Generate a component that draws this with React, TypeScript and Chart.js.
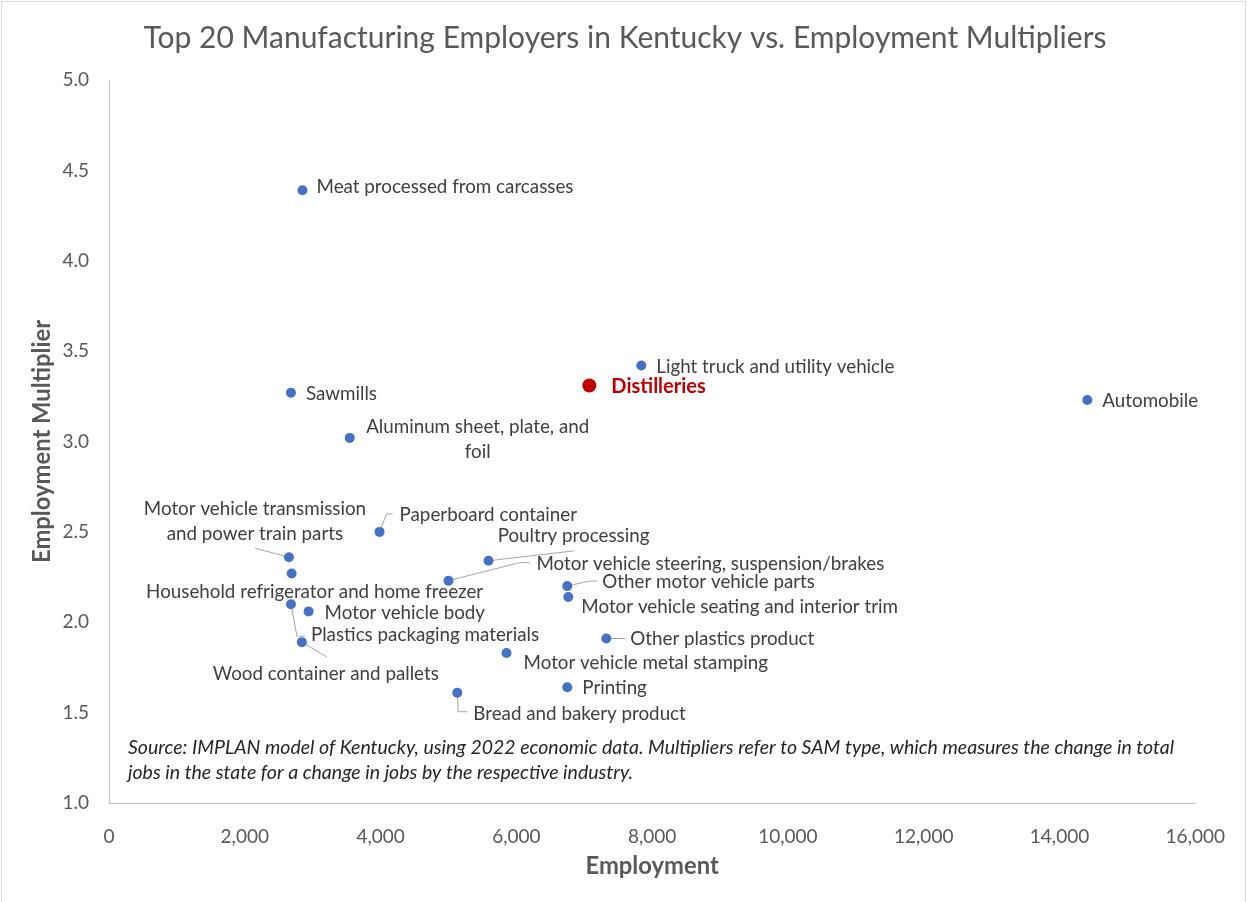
import React, { useEffect, useRef } from "react";
import { Chart, registerables } from "chart.js";

Chart.register(...registerables);

const industries = [
  "Meat processed from carcasses",
  "Sawmills",
  "Aluminum sheet, plate, and|foil",
  "Light truck and utility vehicle",
  "Distilleries",
  "Automobile",
  "Paperboard container",
  "Motor vehicle transmission|and power train parts",
  "Household refrigerator and home freezer",
  "Plastics packaging materials",
  "Motor vehicle body",
  "Wood container and pallets",
  "Poultry processing",
  "Motor vehicle steering, suspension/brakes",
  "Other motor vehicle parts",
  "Motor vehicle seating and interior trim",
  "Other plastics product",
  "Motor vehicle metal stamping",
  "Printing",
  "Bread and bakery product",
];

const employment = [
  2850, 2680, 3545, 7840, 7075, 14410, 3985, 2650, 2690, 2680, 2940, 2840,
  5590, 5000, 6750, 6765, 7325, 5855, 6750, 5130,
];

const multiplier = [
  4.39, 3.27, 3.02, 3.42, 3.31, 3.23, 2.5, 2.36, 2.27, 2.1, 2.06, 1.89, 2.34,
  2.23, 2.2, 2.14, 1.91, 1.83, 1.64, 1.61,
];

const highlightIndex = 4;

const xTicks = [0, 2000, 4000, 6000, 8000, 10000, 12000, 14000, 16000];
const yTicks = [1.0, 1.5, 2.0, 2.5, 3.0, 3.5, 4.0, 4.5, 5.0];

const chartTitle = "Top 20 Manufacturing Employers in Kentucky vs. Employment Multipliers";
const xTitle = "Employment";
const yTitle = "Employment Multiplier";
const sourceNote = [
  "Source: IMPLAN model of Kentucky, using 2022 economic data. Multipliers refer to SAM type, which measures the change in total",
  "jobs in the state for a change in jobs by the respective industry.",
];

// label placement: offset of text anchor from point (px), alignment, optional leader path (px offsets)
type Place = { dx: number; dy: number; align: "left" | "center"; leader?: number[][] };
const placements: Place[] = [
  { dx: 14, dy: -3, align: "left" },
  { dx: 15, dy: 1, align: "left" },
  { dx: 128, dy: -11, align: "center" },
  { dx: 15, dy: 1, align: "left" },
  { dx: 22, dy: 1, align: "left" },
  { dx: 15, dy: 1, align: "left" },
  { dx: 20, dy: -17, align: "left", leader: [[0, 0], [7, -18], [13, -18]] },
  { dx: -34, dy: -48, align: "center", leader: [[0, 0], [-34, -9]] },
  { dx: 23, dy: 18, align: "center" },
  { dx: 20, dy: 31, align: "left", leader: [[0, 0], [6, 32], [14, 32]] },
  { dx: 16, dy: 2, align: "left" },
  { dx: 24, dy: 32, align: "center", leader: [[0, 0], [25, 15]] },
  { dx: 85, dy: -25, align: "center", leader: [[0, 0], [86, -10]] },
  { dx: 88, dy: -17, align: "left", leader: [[0, 0], [71, -18], [81, -18]] },
  { dx: 35, dy: -4, align: "left", leader: [[0, 0], [22, -5], [30, -5]] },
  { dx: 13, dy: 10, align: "left" },
  { dx: 24, dy: 0, align: "left", leader: [[0, 0], [19, 0]] },
  { dx: 17, dy: 10, align: "left" },
  { dx: 15, dy: 1, align: "left" },
  { dx: 16, dy: 21, align: "left", leader: [[0, 0], [1, 19], [10, 19]] },
];

const FONT = "Lato, 'Open Sans', sans-serif";

const decorPlugin = {
  id: "decor",
  beforeDatasetsDraw(chart: any) {
    const ctx = chart.ctx;
    const meta = chart.getDatasetMeta(0);
    ctx.save();
    ctx.strokeStyle = "#a6a6a6";
    ctx.lineWidth = 1;
    placements.forEach((p, i) => {
      if (!p.leader) return;
      const el = meta.data[i];
      ctx.beginPath();
      p.leader.forEach(([lx, ly], k) => {
        if (k === 0) ctx.moveTo(el.x + lx, el.y + ly);
        else ctx.lineTo(el.x + lx, el.y + ly);
      });
      ctx.stroke();
    });
    ctx.restore();
  },
  afterDatasetsDraw(chart: any) {
    const ctx = chart.ctx;
    const meta = chart.getDatasetMeta(0);
    const area = chart.chartArea;
    ctx.save();
    // outer border
    ctx.strokeStyle = "#d9d9d9";
    ctx.lineWidth = 1;
    ctx.strokeRect(1.5, 1.5, chart.width - 3, chart.height + 5);

    // point labels
    ctx.textBaseline = "middle";
    industries.forEach((name, i) => {
      const el = meta.data[i];
      const p = placements[i];
      const lines = name.split("|");
      if (i === highlightIndex) {
        ctx.font = `bold 20px ${FONT}`;
        ctx.fillStyle = "#C00000";
      } else {
        ctx.font = `18.8px ${FONT}`;
        ctx.fillStyle = "#404040";
      }
      ctx.textAlign = p.align;
      lines.forEach((ln, k) => {
        ctx.fillText(ln, el.x + p.dx, el.y + p.dy + k * 25);
      });
    });

    // title
    ctx.fillStyle = "#595959";
    ctx.font = `30px ${FONT}`;
    ctx.textAlign = "center";
    ctx.fillText(chartTitle, 625, 38);

    // axis titles
    ctx.font = `bold 23.8px ${FONT}`;
    ctx.fillText(xTitle, (area.left + area.right) / 2, 866);
    ctx.save();
    ctx.translate(42, (area.top + area.bottom) / 2);
    ctx.rotate(-Math.PI / 2);
    ctx.fillText(yTitle, 0, 0);
    ctx.restore();

    // source note
    ctx.font = `italic 19.5px ${FONT}`;
    ctx.fillStyle = "#262626";
    ctx.textAlign = "left";
    sourceNote.forEach((ln, k) => ctx.fillText(ln, 128, 748 + k * 25));
    ctx.restore();
  },
};

export default function App() {
  const ref = useRef<HTMLCanvasElement>(null);
  useEffect(() => {
    if (!ref.current) return;
    const points = employment.map((x, i) => ({ x, y: multiplier[i] }));
    const chart = new Chart(ref.current, {
      type: "scatter",
      data: {
        datasets: [
          {
            data: points,
            backgroundColor: points.map((_, i) => (i === highlightIndex ? "#C00000" : "#4472C4")),
            borderColor: points.map((_, i) => (i === highlightIndex ? "#C00000" : "#4472C4")),
            pointRadius: points.map((_, i) => (i === highlightIndex ? 7 : 5)),
            pointBorderWidth: 0,
          },
        ],
      },
      options: {
        responsive: false,
        animation: false,
        events: [],
        layout: { padding: { top: 80, right: 48, left: 0, bottom: 0 } },
        plugins: { legend: { display: false }, tooltip: { enabled: false }, title: { display: false } },
        scales: {
          x: {
            type: "linear",
            position: "bottom",
            min: 0,
            max: 16000,
            afterFit: (s: any) => { s.height = 99; },
            afterBuildTicks: (s: any) => { s.ticks = xTicks.map((v) => ({ value: v })); },
            grid: { display: true, drawOnChartArea: false, drawTicks: false },
            border: { display: true, color: "#bfbfbf", width: 1 },
            ticks: {
              color: "#595959",
              font: { family: FONT, size: 19 },
              padding: 22,
              maxRotation: 0,
              callback: (v: any) => Number(v).toLocaleString("en-US"),
            },
          },
          y: {
            type: "linear",
            min: 1,
            max: 5,
            afterFit: (s: any) => { s.width = 109; },
            afterBuildTicks: (s: any) => { s.ticks = yTicks.map((v) => ({ value: v })); },
            grid: { display: true, drawOnChartArea: false, drawTicks: false },
            border: { display: true, color: "#bfbfbf", width: 1 },
            ticks: {
              color: "#595959",
              font: { family: FONT, size: 19 },
              padding: 20,
              callback: (v: any) => Number(v).toFixed(1),
            },
          },
        },
      },
      plugins: [decorPlugin],
    });
    return () => chart.destroy();
  }, []);
  return (
    <div style={{ position: "absolute", left: 0, top: 0, width: 1247, height: 902, background: "#fff" }}>
      <canvas ref={ref} width={1247} height={902} />
    </div>
  );
}
